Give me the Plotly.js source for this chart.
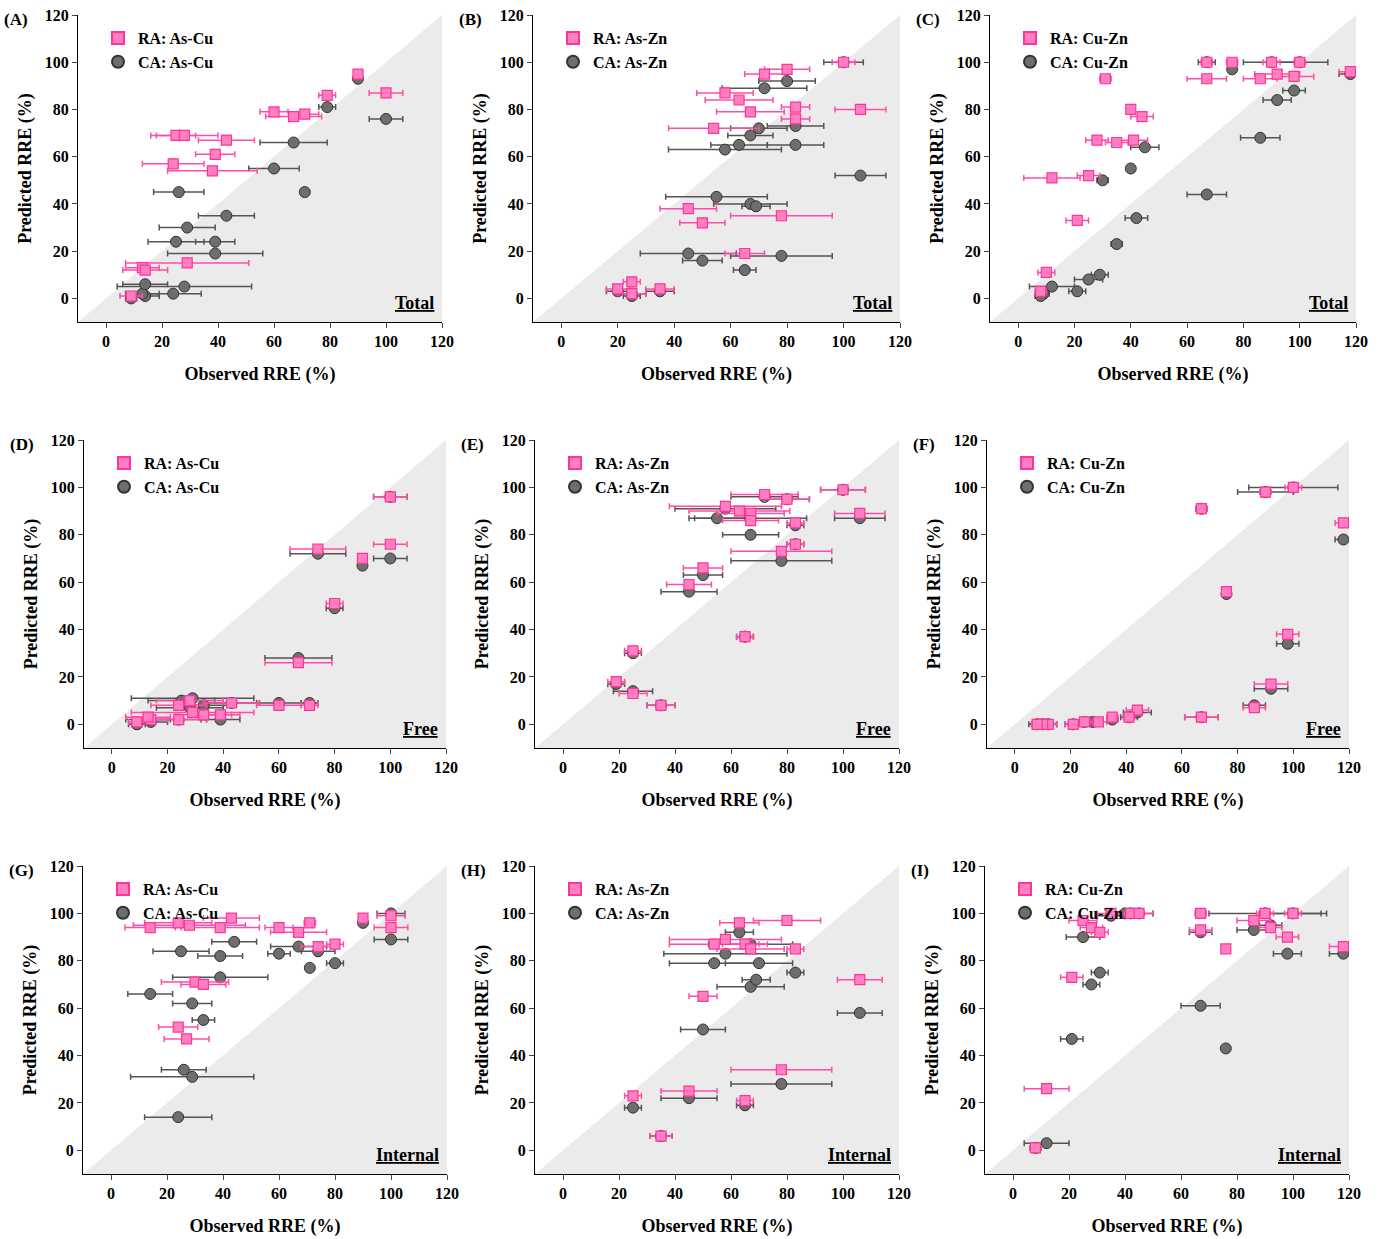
<!DOCTYPE html>
<html><head><meta charset="utf-8">
<script src="https://cdn.plot.ly/plotly-3.0.1.min.js"></script>
<style>body{margin:0}</style></head><body>
<div id="c" style="width:1384px;height:1239px"></div>
<script>
// each point: [observed, predicted, error]
const A_RA=[[9,1,4],[13,13,6],[14,12,8],[29,15,22],[25,69,7],[28,69,12],[43,67,10],[39,61,7],[24,57,11],[38,54,16],[60,79,5],[67,77,10],[71,78,5],[79,86,3],[90,95,1],[100,87,6]];
const A_CA=[[9,0,2],[14,1,5],[13,2,6],[24,2,10],[28,5,24],[14,6,8],[26,45,9],[71,45,1],[43,35,10],[29,30,10],[25,24,10],[39,24,7],[39,19,17],[60,55,9],[67,66,12],[79,81,3],[90,93,1],[100,76,6]];
const B_RA=[[100,100,4],[80,97,8],[72,95,7],[58,87,10],[63,84,12],[67,79,12],[83,81,5],[83,76,5],[54,72,16],[106,80,9],[45,38,10],[50,32,8],[78,35,18],[65,19,7],[20,4,4],[25,7,3],[35,4,5],[25,2,5]];
const B_CA=[[100,100,7],[80,92,10],[72,89,15],[70,72,10],[67,69,8],[63,65,10],[58,63,20],[83,73,10],[83,65,10],[106,52,9],[55,43,18],[67,40,13],[69,39,5],[45,19,17],[50,16,7],[65,12,4],[78,18,18],[20,3,4],[25,2,5],[35,3,5],[25,1,3]];
const C_RA=[[67,100,2],[76,100,2],[90,100,3],[100,100,2],[92,95,8],[86,93,6],[98,94,7],[67,93,7],[118,96,4],[31,93,2],[40,80,1],[44,77,4],[28,67,4],[35,66,4],[41,67,5],[25,52,4],[12,51,10],[21,33,4],[10,11,3],[8,3,2]];
const C_CA=[[67,100,3],[90,100,10],[100,100,10],[76,97,1],[98,88,4],[92,84,5],[118,95,4],[86,68,7],[67,44,7],[40,55,1],[45,64,5],[30,50,2],[42,34,4],[35,23,2],[29,10,3],[12,5,8],[25,8,5],[21,3,3],[9,2,2],[8,1,2]];
const D_RA=[[100,96,6],[100,76,6],[90,70,1],[74,74,10],[80,51,3],[67,26,12],[9,1,3],[14,2,6],[24,2,10],[29,5,22],[33,4,10],[39,4,7],[43,9,10],[60,8,8],[71,8,3],[28,10,12],[24,8,10],[13,3,8]];
const D_CA=[[100,96,6],[100,70,6],[90,67,1],[74,72,10],[80,49,3],[67,28,12],[9,0,3],[14,1,6],[24,2,10],[29,11,22],[33,8,10],[39,2,7],[43,9,10],[60,9,8],[71,9,3],[25,10,12],[28,7,12],[13,2,8]];
const E_RA=[[100,99,8],[80,95,8],[72,97,12],[58,92,20],[63,90,18],[67,89,12],[67,86,10],[83,85,3],[83,76,3],[106,89,9],[78,73,18],[50,66,7],[45,59,8],[65,37,3],[25,31,3],[19,18,3],[25,13,5],[35,8,5]];
const E_CA=[[100,99,8],[80,95,8],[72,96,12],[58,91,18],[55,87,10],[67,87,20],[67,80,10],[83,84,3],[83,76,3],[106,87,9],[78,69,18],[50,63,7],[45,56,10],[65,37,3],[25,30,3],[19,17,3],[25,14,7],[35,8,5]];
const F_RA=[[100,100,3],[90,98,2],[67,91,2],[118,85,3],[76,56,1],[98,38,4],[92,17,6],[86,7,4],[67,3,6],[44,6,4],[41,3,2],[35,3,2],[30,1,3],[25,1,3],[21,0,3],[12,0,3],[10,0,3],[8,0,2]];
const F_CA=[[100,100,16],[90,98,10],[67,91,2],[118,78,3],[76,55,1],[98,34,4],[92,15,6],[86,8,4],[67,3,6],[44,5,5],[41,3,3],[35,2,2],[28,1,3],[25,1,3],[21,0,3],[12,0,3],[10,0,5],[8,0,2]];
const G_RA=[[90,98,1],[100,99,5],[100,94,6],[71,96,2],[60,94,5],[43,98,10],[39,94,14],[28,95,20],[24,96,12],[14,94,9],[67,92,10],[80,87,3],[74,86,6],[30,71,12],[33,70,8],[24,52,7],[27,47,8]];
const G_CA=[[90,96,1],[100,100,5],[100,89,6],[71,77,1],[60,83,4],[44,88,8],[39,82,8],[25,84,10],[67,86,10],[80,79,3],[74,84,6],[39,73,17],[29,62,7],[14,66,8],[33,55,4],[26,34,8],[29,31,22],[24,14,12]];
const H_RA=[[63,96,7],[80,97,12],[58,89,20],[54,87,16],[65,87,8],[67,85,12],[83,85,3],[50,65,5],[106,72,8],[78,34,18],[45,25,10],[25,23,3],[65,21,3],[35,6,4]];
const H_CA=[[63,92,5],[67,87,15],[58,83,22],[54,79,16],[70,79,12],[67,69,12],[69,72,5],[83,75,3],[50,51,8],[106,58,8],[78,28,18],[45,22,10],[25,18,3],[65,19,3],[35,6,4]];
const I_RA=[[90,100,3],[100,100,3],[67,100,2],[35,100,5],[42,100,2],[45,100,5],[25,97,5],[28,94,4],[31,92,3],[86,97,6],[92,94,4],[67,93,4],[98,90,4],[118,86,5],[76,85,1],[21,73,4],[12,26,8],[8,1,2]];
const I_CA=[[90,100,20],[100,100,12],[40,100,4],[42,100,4],[35,99,5],[45,100,5],[86,93,6],[92,95,4],[67,92,4],[98,83,5],[118,83,5],[31,75,3],[28,70,3],[25,90,6],[67,61,7],[76,43,1],[21,47,4],[12,3,8],[8,1,2]];
const panels=[
 {lab:'(A)',pair:'As-Cu',kind:'Total',ra:A_RA,ca:A_CA,x:[78,442],y:[15,322]},
 {lab:'(B)',pair:'As-Zn',kind:'Total',ra:B_RA,ca:B_CA,x:[533,900],y:[15,322]},
 {lab:'(C)',pair:'Cu-Zn',kind:'Total',ra:C_RA,ca:C_CA,x:[990,1356],y:[15,322]},
 {lab:'(D)',pair:'As-Cu',kind:'Free',ra:D_RA,ca:D_CA,x:[84,446],y:[440,748]},
 {lab:'(E)',pair:'As-Zn',kind:'Free',ra:E_RA,ca:E_CA,x:[535,899],y:[440,748]},
 {lab:'(F)',pair:'Cu-Zn',kind:'Free',ra:F_RA,ca:F_CA,x:[987,1349],y:[440,748]},
 {lab:'(G)',pair:'As-Cu',kind:'Internal',ra:G_RA,ca:G_CA,x:[83,447],y:[866,1174]},
 {lab:'(H)',pair:'As-Zn',kind:'Internal',ra:H_RA,ca:H_CA,x:[535,899],y:[866,1174]},
 {lab:'(I)',pair:'Cu-Zn',kind:'Internal',ra:I_RA,ca:I_CA,x:[985,1349],y:[866,1174]}
];
const W=1384,H=1239,F='Liberation Serif, Times New Roman, serif';
const data=[],layout={width:W,height:H,margin:{l:0,r:0,t:0,b:0},paper_bgcolor:'white',plot_bgcolor:'white',showlegend:true,shapes:[],annotations:[]};
panels.forEach((p,i)=>{
  const n=i+1,xs='x'+(n>1?n:''),ys='y'+(n>1?n:''),lg='legend'+(n>1?n:'');
  const xd=[p.x[0]/W,p.x[1]/W],yd=[1-p.y[1]/H,1-p.y[0]/H];
  const ax={domain:xd,range:[-10,120],tickvals:[0,20,40,60,80,100,120],showline:true,linecolor:'#000',linewidth:1.2,ticks:'outside',ticklen:5,showgrid:false,zeroline:false,tickfont:{family:F,size:16,color:'#000',weight:'bold'},title:{text:'<b>Observed RRE (%)</b>',font:{family:F,size:18,color:'#000'},standoff:18},anchor:ys};
  const ay={domain:yd,range:[-10,120],tickvals:[0,20,40,60,80,100,120],showline:true,linecolor:'#000',linewidth:1.2,ticks:'outside',ticklen:5,showgrid:false,zeroline:false,tickfont:{family:F,size:16,color:'#000',weight:'bold'},title:{text:'<b>Predicted RRE (%)</b>',font:{family:F,size:18,color:'#000'},standoff:8},anchor:xs};
  layout['xaxis'+(n>1?n:'')]=ax; layout['yaxis'+(n>1?n:'')]=ay;
  layout.shapes.push({type:'path',xref:xs,yref:ys,path:'M -10 -10 L 120 120 L 120 -10 Z',fillcolor:'#ebebeb',line:{width:0},layer:'below'});
  layout.annotations.push({xref:'paper',yref:'paper',x:2/W+(p.x[0]-78)/W,y:yd[1]+0.006,xanchor:'left',yanchor:'top',text:'<b>'+p.lab+'</b>',showarrow:false,font:{family:F,size:17,color:'#000'}});
  layout.annotations.push({xref:xs,yref:ys,x:118,y:-7,xanchor:'right',yanchor:'bottom',text:'<b><u>'+p.kind+'</u></b>',showarrow:false,font:{family:F,size:18,color:'#000'}});
  layout[lg]={x:xd[0]+20/W,y:yd[1]-6/H,xanchor:'left',yanchor:'top',bgcolor:'rgba(0,0,0,0)',font:{family:F,size:16,color:'#000',weight:'bold'},itemsizing:'constant',tracegroupgap:0};
  data.push({type:'scatter',mode:'markers',xaxis:xs,yaxis:ys,legend:lg,name:'<b>CA: '+p.pair+'</b>',
    x:p.ca.map(d=>d[0]),y:p.ca.map(d=>d[1]),error_x:{type:'data',array:p.ca.map(d=>d[2]),color:'#555',thickness:1.5,width:3},
    marker:{symbol:'circle',size:11,color:'#6e6e6e',line:{color:'#333',width:1}},legendrank:2});
  data.push({type:'scatter',mode:'markers',xaxis:xs,yaxis:ys,legend:lg,name:'<b>RA: '+p.pair+'</b>',
    x:p.ra.map(d=>d[0]),y:p.ra.map(d=>d[1]),error_x:{type:'data',array:p.ra.map(d=>d[2]),color:'#ff4da6',thickness:1.5,width:3},
    marker:{symbol:'square',size:10,color:'#ff7fc0',line:{color:'#ff3399',width:1.2}},legendrank:1});
});
Plotly.newPlot('c',data,layout,{displayModeBar:false});
</script></body></html>
